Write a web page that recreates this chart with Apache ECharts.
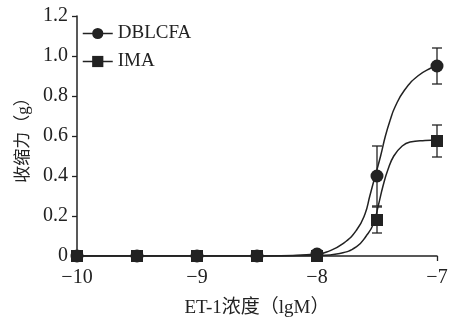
<!DOCTYPE html>
<html><head><meta charset="utf-8">
<script src="https://cdn.jsdelivr.net/npm/echarts@6/dist/echarts.min.js"></script>
<style>html,body{margin:0;padding:0;background:#fff}#c{width:451px;height:324px}</style>
</head><body><div id="c"></div>
<script>
// measured points (lg M)
const doseX = [-10, -9.5, -9, -8.5, -8, -7.5, -7];
const dblcfaY = [0, 0, 0, 0, 0.01, 0.40, 0.95];
const imaY = [0, 0, 0, 0, 0, 0.18, 0.575];
// error bars (mean ± SEM) where visible
const errX = [-7.5, -7];
const dblcfaErr = [0.15, 0.09];
const imaErr = [0.065, 0.08];
// fitted curves
const dblcfaFitX = [-10, -8.6, -8.2, -8.0, -7.92, -7.78, -7.67, -7.6, -7.56, -7.52, -7.47, -7.43, -7.39, -7.35, -7.27, -7.16, -7.05, -7.0];
const dblcfaFitY = [0, 0, 0.003, 0.01, 0.02, 0.063, 0.13, 0.21, 0.30, 0.39, 0.50, 0.60, 0.68, 0.745, 0.83, 0.90, 0.94, 0.95];
const imaFitX = [-10, -8.3, -8.0, -7.81, -7.67, -7.59, -7.53, -7.49, -7.45, -7.41, -7.36, -7.29, -7.225, -7.1, -7.0];
const imaFitY = [0, 0, 0.002, 0.013, 0.047, 0.10, 0.16, 0.25, 0.35, 0.43, 0.50, 0.55, 0.57, 0.578, 0.58];
const xTicks = [-10, -9, -8, -7];
const yTicks = [0, 0.2, 0.4, 0.6, 0.8, 1.0, 1.2];

const FONT = '"Liberation Serif", "Noto Sans CJK SC", serif';
const INK = '#222';
const zip = (a, b) => a.map((v, i) => [v, b[i]]);

function errSeries(means, errs) {
  const data = errX.map((x, i) => {
    const m = means[doseX.indexOf(x)];
    return [x, m - errs[i], m + errs[i]];
  });
  return {
    type: 'custom', silent: true, z: 3,
    data: data,
    renderItem: function (params, api) {
      const x = api.value(0);
      const lo = api.coord([x, api.value(1)]);
      const hi = api.coord([x, api.value(2)]);
      const w = 5;
      const st = { stroke: INK, lineWidth: 1.3, fill: null };
      return { type: 'group', children: [
        { type: 'line', shape: { x1: lo[0], y1: lo[1], x2: hi[0], y2: hi[1] }, style: st },
        { type: 'line', shape: { x1: lo[0] - w, y1: lo[1], x2: lo[0] + w, y2: lo[1] }, style: st },
        { type: 'line', shape: { x1: hi[0] - w, y1: hi[1], x2: hi[0] + w, y2: hi[1] }, style: st }
      ]};
    }
  };
}

const chart = echarts.init(document.getElementById('c'), null, { renderer: 'canvas' });
chart.setOption({
  animation: false,
  backgroundColor: '#fff',
  textStyle: { fontFamily: FONT, color: INK },
  grid: { left: 77, right: 14, top: 16, bottom: 68 },
  legend: {
    data: ['DBLCFA', 'IMA'],
    orient: 'vertical', left: 77, top: 19,
    itemWidth: 30, itemHeight: 14, itemGap: 9,
    textStyle: { fontFamily: FONT, fontSize: 19, color: INK },
    lineStyle: { width: 1.5, color: INK, opacity: 1 },
    itemStyle: { color: INK }
  },
  xAxis: {
    type: 'value', min: -10, max: -7, interval: 1,
    name: 'ET-1浓度（lgM）', nameLocation: 'middle', nameGap: 43,
    nameTextStyle: { fontFamily: FONT, fontSize: 19, color: INK },
    axisLine: { show: true, onZero: false, lineStyle: { color: INK, width: 1.5 } },
    axisTick: { show: true, length: 5, lineStyle: { color: INK, width: 1.3 } },
    axisLabel: { margin: 12, fontSize: 20, color: INK, fontFamily: FONT,
      formatter: v => xTicks.includes(v) ? String(v).replace('-', '\u2212') : '' },
    splitLine: { show: false }
  },
  yAxis: {
    type: 'value', min: 0, max: 1.2, interval: 0.2,
    name: '收缩力（g）', nameLocation: 'middle', nameGap: 39, nameRotate: 90,
    nameTextStyle: { fontFamily: FONT, fontSize: 17, color: INK },
    axisLine: { show: true, lineStyle: { color: INK, width: 1.5 } },
    axisTick: { show: true, length: 5, lineStyle: { color: INK, width: 1.3 } },
    axisLabel: { margin: 9, fontSize: 20, color: INK, fontFamily: FONT,
      formatter: v => { const t = yTicks.find(k => Math.abs(k - v) < 1e-9); return t === undefined ? '' : (t === 0 ? '0' : t.toFixed(1)); } },
    splitLine: { show: false }
  },
  series: [
    { name: 'DBLCFA fit', type: 'line', data: zip(dblcfaFitX, dblcfaFitY), smooth: 0.5,
      symbol: 'none', lineStyle: { color: INK, width: 1.5 }, z: 2, silent: true },
    { name: 'IMA fit', type: 'line', data: zip(imaFitX, imaFitY), smooth: 0.5,
      symbol: 'none', lineStyle: { color: INK, width: 1.5 }, z: 2, silent: true },
    errSeries(dblcfaY, dblcfaErr),
    errSeries(imaY, imaErr),
    { name: 'IMA', type: 'line', data: zip(doseX, imaY), symbol: 'rect', symbolSize: 12,
      itemStyle: { color: INK }, lineStyle: { opacity: 0, width: 1.5, color: INK }, z: 5 },
    { name: 'DBLCFA', type: 'line', data: zip(doseX, dblcfaY), symbol: 'circle', symbolSize: 13,
      itemStyle: { color: INK }, lineStyle: { opacity: 0, width: 1.5, color: INK }, z: 6 }
  ]
});
</script></body></html>
